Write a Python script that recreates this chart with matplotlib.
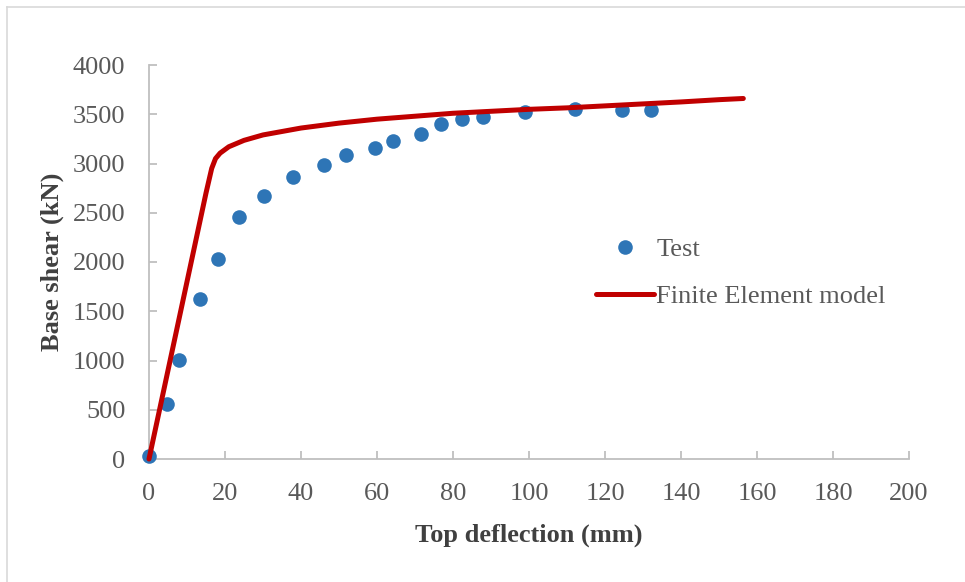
import matplotlib
matplotlib.use("Agg")
import matplotlib.pyplot as plt
from matplotlib.lines import Line2D

# Measured pushover response
test_deflection = [0.0, 4.7, 8.0, 13.5, 18.2, 23.8, 30.3, 38.0, 46.0, 51.9,
                   59.4, 64.2, 71.7, 76.9, 82.4, 87.9, 99.0, 112.1, 124.4, 132.2]
test_shear = [30, 561, 1007, 1622, 2028, 2454, 2673, 2866, 2981, 3089,
              3154, 3228, 3300, 3397, 3448, 3471, 3519, 3549, 3545, 3545]

# Finite element prediction
fe_deflection = [0.0, 5.0, 10.0, 15.0, 16.5, 17.5, 18.7, 21.0, 25.0, 30.0,
                 40.0, 50.0, 60.0, 70.0, 80.0, 90.0, 100.0, 110.0, 120.0,
                 130.0, 140.0, 150.0, 156.4]
fe_shear = [0, 900, 1800, 2700, 2950, 3050, 3105, 3170, 3235, 3290,
            3360, 3410, 3450, 3480, 3510, 3530, 3550, 3565, 3585,
            3605, 3625, 3648, 3660]

x_ticks = [0, 20, 40, 60, 80, 100, 120, 140, 160, 180, 200]
y_ticks = [0, 500, 1000, 1500, 2000, 2500, 3000, 3500, 4000]

W, H = 965, 582
fig = plt.figure(figsize=(W / 100, H / 100), dpi=100)
plt.rcParams['font.family'] = ['Liberation Serif', 'DejaVu Serif']

# chart-area frame (left and top edges)
fig.add_artist(Line2D([7 / W, 7 / W], [0, 1 - 7 / H], transform=fig.transFigure,
                      color='#D9D9D9', lw=1.2))
fig.add_artist(Line2D([7 / W, 1], [1 - 7 / H, 1 - 7 / H], transform=fig.transFigure,
                      color='#D9D9D9', lw=1.2))

ax = fig.add_axes([149 / W, (H - 459) / H, (909 - 149) / W, (459 - 65) / H])

blue = '#2E75B6'
red = '#C00000'
ax.plot(test_deflection, test_shear, 'o', color=blue, markersize=10.5,
        markeredgewidth=0, label='Test', zorder=3, clip_on=False)
ax.plot(fe_deflection, fe_shear, '-', color=red, lw=3.6, solid_capstyle='round',
        label='Finite Element model', zorder=4, clip_on=False)

ax.set_xlim(0, 200)
ax.set_ylim(0, 4000)
ax.set_xticks(x_ticks)
ax.set_yticks(y_ticks)

for s in ['top', 'right']:
    ax.spines[s].set_visible(False)
for s in ['left', 'bottom']:
    ax.spines[s].set_color('#BFBFBF')
    ax.spines[s].set_linewidth(1.3)

ax.tick_params(axis='both', direction='in', length=6, width=1.3, color='#BFBFBF',
               labelsize=19, labelcolor='#595959')
ax.tick_params(axis='y', pad=17)
ax.tick_params(axis='x', pad=17)

ax.set_xlabel('Top deflection (mm)', fontsize=19, fontweight='bold', color='#404040',
              labelpad=14)
ax.set_ylabel('Base shear (kN)', fontsize=19, fontweight='bold', color='#404040',
              labelpad=6)

leg = ax.legend(loc='upper left', bbox_to_anchor=(585 / W, (H - 227) / H),
                bbox_transform=fig.transFigure, frameon=False, fontsize=19,
                labelcolor='#595959', handlelength=2.2, handletextpad=0.1,
                labelspacing=0.9, borderaxespad=0)

fig.savefig('out.png', dpi=100)
